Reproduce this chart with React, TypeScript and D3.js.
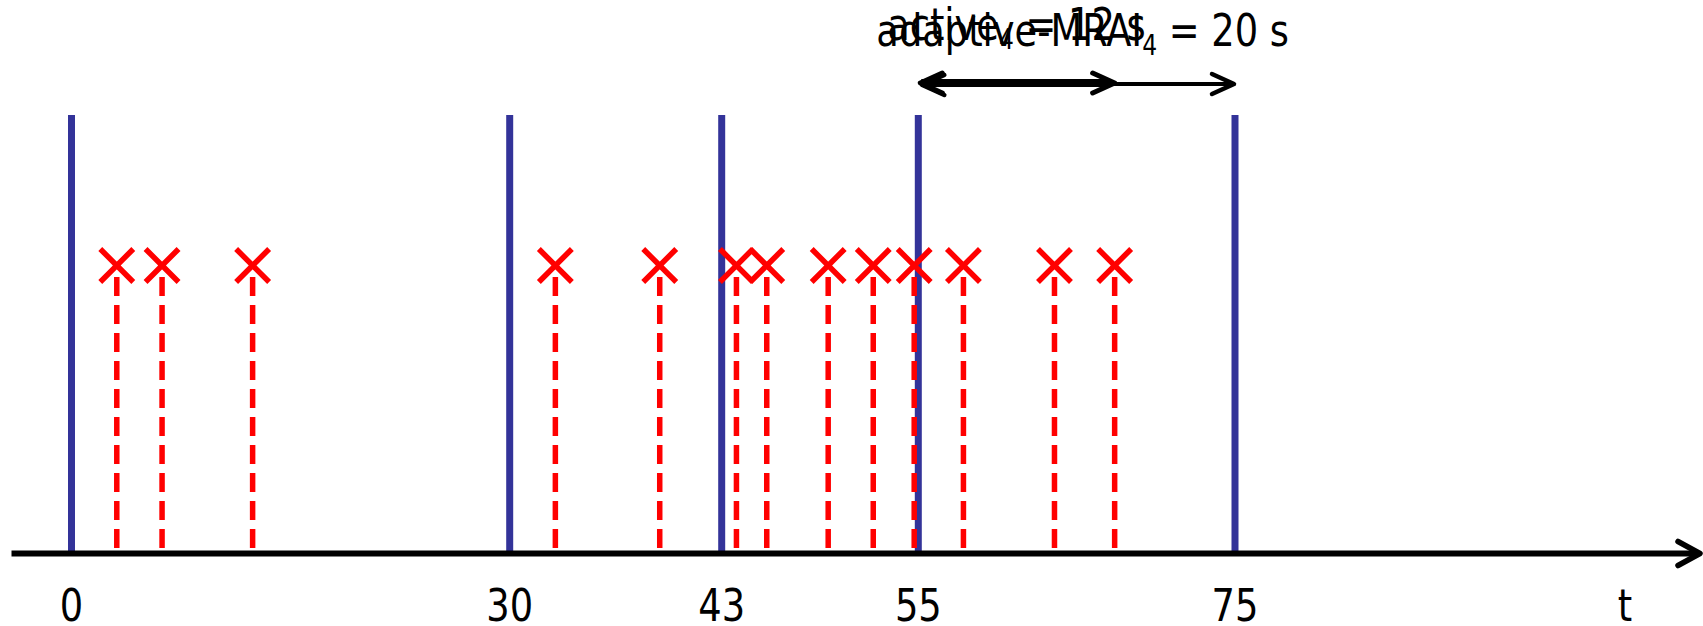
import React from "react";
import * as d3 from "d3";

// Data
const tickTimes = [0, 30, 43, 55, 75];
const tickLabels = ["0", "30", "43", "55", "75"];
const updateTimes = [0, 30, 43, 55, 75]; // blue vertical lines
const eventTimes = [3.1, 6.2, 12.4, 32.8, 39.2, 43.9, 45.75, 49.5, 52.25, 54.75, 57.85, 63.6, 67.4];
const activeSpan = [55, 67.4];
const activeLabel = ["active", "4", " = 12 s"];
const mraiSpan = [55, 75];
const mraiLabel = ["adaptive-MRAI", "4", " = 20 s"];
const axisLabel = "t";

const W = 1703;
const H = 626;
const FONT = "'DejaVu Sans Condensed', 'DejaVu Sans', sans-serif";
const SX = 0.93; // horizontal compression to mimic the narrower original face

export default function App() {
  // schematic (piecewise linear) time axis
  const x = d3.scaleLinear().domain(tickTimes).range([71.5, 509.7, 721.7, 918.3, 1235]);
  const y = d3.scaleLinear().domain([0, 1]).range([553.5, 115]);
  const axisY = y(0);
  const crossY = 265.5;
  const dashTop = 277;
  const cs = 16.5;

  const arrowHead = (tx: number, ty: number, dir: number) =>
    `M${tx - dir * 22},${ty - 10} L${tx},${ty} L${tx - dir * 22},${ty + 10}`;

  const labelText = (parts: string[], cx: number, by: number) => (
    <g transform={`translate(${cx},${by}) scale(${SX},1)`}>
      <text x={0} y={0} textAnchor="middle" fontFamily={FONT} fontSize={44} fill="#000">
        {parts[0]}
        <tspan fontSize={28} dy={9}>{parts[1]}</tspan>
        <tspan dy={-9}>{parts[2]}</tspan>
      </text>
    </g>
  );

  const simpleText = (s: string, cx: number, by: number, key: string) => (
    <g key={key} transform={`translate(${cx},${by}) scale(${SX},1)`}>
      <text x={0} y={0} textAnchor="middle" fontFamily={FONT} fontSize={44} fill="#000">{s}</text>
    </g>
  );

  return (
    <svg width={W} height={H} style={{ position: "absolute", left: 0, top: 0, background: "#fff" }}>
      {/* blue update lines */}
      {updateTimes.map((t, i) => (
        <line key={"b" + i} x1={x(t)} x2={x(t)} y1={y(1)} y2={axisY} stroke="#333399" strokeWidth={7} />
      ))}
      {/* red dashed event lines */}
      {eventTimes.map((t, i) => (
        <line key={"r" + i} x1={x(t)} x2={x(t)} y1={dashTop} y2={axisY} stroke="#FF0000" strokeWidth={5.5} strokeDasharray="19 9" />
      ))}
      {/* red crosses */}
      {eventTimes.map((t, i) => (
        <path
          key={"c" + i}
          d={`M${x(t) - cs},${crossY - cs} L${x(t) + cs},${crossY + cs} M${x(t) - cs},${crossY + cs} L${x(t) + cs},${crossY - cs}`}
          stroke="#FF0000"
          strokeWidth={5.5}
          fill="none"
        />
      ))}
      {/* time axis */}
      <line x1={11.5} x2={1699} y1={axisY} y2={axisY} stroke="#000" strokeWidth={6} />
      <path d={`M1678,${axisY - 12} L1700,${axisY} L1678,${axisY + 12}`} stroke="#000" strokeWidth={5.5} fill="none" strokeLinecap="round" strokeLinejoin="round" />
      {/* tick labels */}
      {tickTimes.map((t, i) => simpleText(tickLabels[i], x(t), 621, "t" + i))}
      {simpleText(axisLabel, 1625, 621, "axis")}

      {/* mrai arrow (thin) */}
      <line x1={x(mraiSpan[0]) + 2} x2={x(mraiSpan[1]) - 2} y1={84} y2={84} stroke="#000" strokeWidth={4} />
      <path d={arrowHead(x(mraiSpan[1]) - 1, 84, 1)} stroke="#000" strokeWidth={4.5} fill="none" strokeLinecap="round" strokeLinejoin="round" />
      <path d={arrowHead(x(mraiSpan[0]) + 4, 85, -1)} stroke="#000" strokeWidth={4.5} fill="none" strokeLinecap="round" strokeLinejoin="round" />
      {/* active arrow (thick) */}
      <line x1={x(activeSpan[0]) + 3} x2={x(activeSpan[1]) - 3} y1={83} y2={83} stroke="#000" strokeWidth={8} />
      <path d={arrowHead(x(activeSpan[1]), 83, 1)} stroke="#000" strokeWidth={5} fill="none" strokeLinecap="round" strokeLinejoin="round" />
      <path d={arrowHead(x(activeSpan[0]) + 2, 83, -1)} stroke="#000" strokeWidth={5} fill="none" strokeLinecap="round" strokeLinejoin="round" />

      {/* labels */}
      {labelText(mraiLabel, (x(mraiSpan[0]) + x(mraiSpan[1])) / 2 + 6, 46)}
      {labelText(activeLabel, (x(activeSpan[0]) + x(activeSpan[1])) / 2, 40)}
    </svg>
  );
}
